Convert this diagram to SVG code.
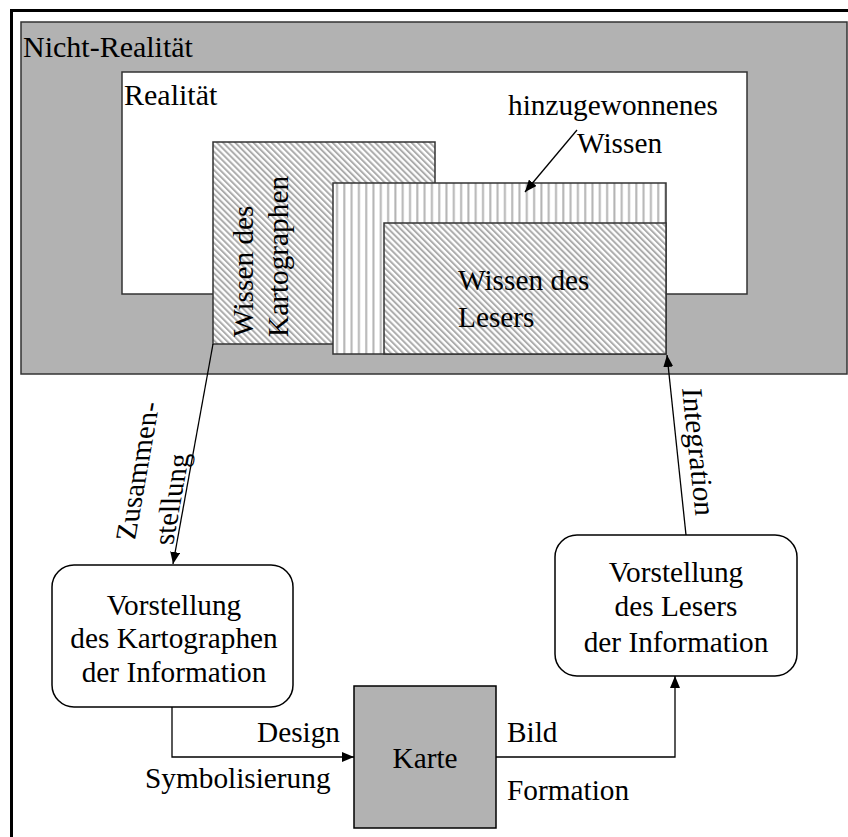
<svg xmlns="http://www.w3.org/2000/svg" width="848" height="837" viewBox="0 0 848 837" font-family="'Liberation Serif', 'DejaVu Serif', serif">
  <style>
    text { font-family: 'Liberation Serif', 'DejaVu Serif', serif; font-size: 29.3px; fill: #000; }
    .frame { fill: none; stroke: #000; stroke-width: 3; }
    .area { stroke: #333; stroke-width: 1.5; }
    .box { fill: #fff; stroke: #000; stroke-width: 1.5; }
    .conn { fill: none; stroke: #000; stroke-width: 1.3; }
    .mid { text-anchor: middle; }
  </style>
  <defs>
    <pattern id="diag" patternUnits="userSpaceOnUse" width="4.3" height="4.3" patternTransform="rotate(-45)">
      <rect width="4.3" height="4.3" fill="#fff"/>
      <rect x="0" y="0" width="2" height="4.3" fill="#acacac"/>
    </pattern>
    <pattern id="vert" patternUnits="userSpaceOnUse" width="7.3" height="10" x="333">
      <rect width="7.3" height="10" fill="#fff"/>
      <rect x="3" y="0" width="2" height="10" fill="#b4b4b4"/>
    </pattern>
    <marker id="arrow" viewBox="0 0 12 10" refX="12" refY="5" markerWidth="12" markerHeight="10" markerUnits="userSpaceOnUse" orient="auto">
      <path d="M0,0 L12,5 L0,10 Z" fill="#000"/>
    </marker>
  </defs>

  <rect width="848" height="837" fill="#fff"/>
  <!-- outer frame (open on the right and bottom) -->
  <path class="frame" d="M11.5,837 V10.5 H848"/>

  <g id="nicht-realitaet">
    <rect class="area" x="21" y="22" width="826" height="352" fill="#b2b2b2"/>
    <text x="23" y="57" style="font-size:30px">Nicht-Realität</text>
  </g>

  <g id="realitaet">
    <rect class="area" x="122" y="72" width="625" height="222" fill="#fff"/>
    <text x="124" y="105" style="font-size:30px">Realität</text>
  </g>

  <g id="wissen-kartograph">
    <rect class="area" x="213" y="142" width="222" height="202" fill="url(#diag)"/>
    <text transform="translate(253,337) rotate(-90)">Wissen des</text>
    <text transform="translate(288,337) rotate(-90)">Kartographen</text>
  </g>

  <g id="hinzugewonnen">
    <rect class="area" x="333" y="183" width="333" height="171" fill="url(#vert)"/>
    <text x="508" y="115">hinzugewonnenes</text>
    <text x="577" y="153">Wissen</text>
  </g>

  <g id="wissen-leser">
    <rect class="area" x="384" y="223" width="282" height="131" fill="url(#diag)"/>
    <text x="458" y="290">Wissen des</text>
    <text x="458" y="327">Lesers</text>
  </g>

  <g id="vorstellung-kartograph">
    <rect class="box" x="52" y="565" width="241" height="142" rx="22"/>
    <text class="mid" x="174" y="615">Vorstellung</text>
    <text class="mid" x="174" y="648">des Kartographen</text>
    <text class="mid" x="174" y="682">der Information</text>
  </g>

  <g id="vorstellung-leser">
    <rect class="box" x="555" y="535" width="242" height="141" rx="22"/>
    <text class="mid" x="676" y="582">Vorstellung</text>
    <text class="mid" x="676" y="616">des Lesers</text>
    <text class="mid" x="676" y="652">der Information</text>
  </g>

  <g id="karte">
    <rect x="354" y="686" width="142" height="142" fill="#b2b2b2" stroke="#000" stroke-width="1.5"/>
    <text class="mid" x="425" y="768">Karte</text>
  </g>

  <g id="connectors">
    <line class="conn" x1="577" y1="130" x2="525" y2="192" marker-end="url(#arrow)"/>
    <line class="conn" x1="213" y1="344" x2="173" y2="564" marker-end="url(#arrow)"/>
    <line class="conn" x1="686" y1="535" x2="667" y2="355" marker-end="url(#arrow)"/>
    <polyline class="conn" points="172,707 172,757 354,757" marker-end="url(#arrow)"/>
    <polyline class="conn" points="496,757 675,757 675,676" marker-end="url(#arrow)"/>
  </g>

  <g id="labels">
    <text transform="matrix(0.176 -0.985 1 0 135 540)">Zusammen-</text>
    <text transform="matrix(0.176 -0.985 1 0 173 545)">stellung</text>
    <text transform="matrix(0.105 0.995 -1 0 682 388)">Integration</text>
    <text x="340" y="742" text-anchor="end">Design</text>
    <text x="145" y="788">Symbolisierung</text>
    <text x="507" y="742">Bild</text>
    <text x="507" y="800">Formation</text>
  </g>
</svg>
